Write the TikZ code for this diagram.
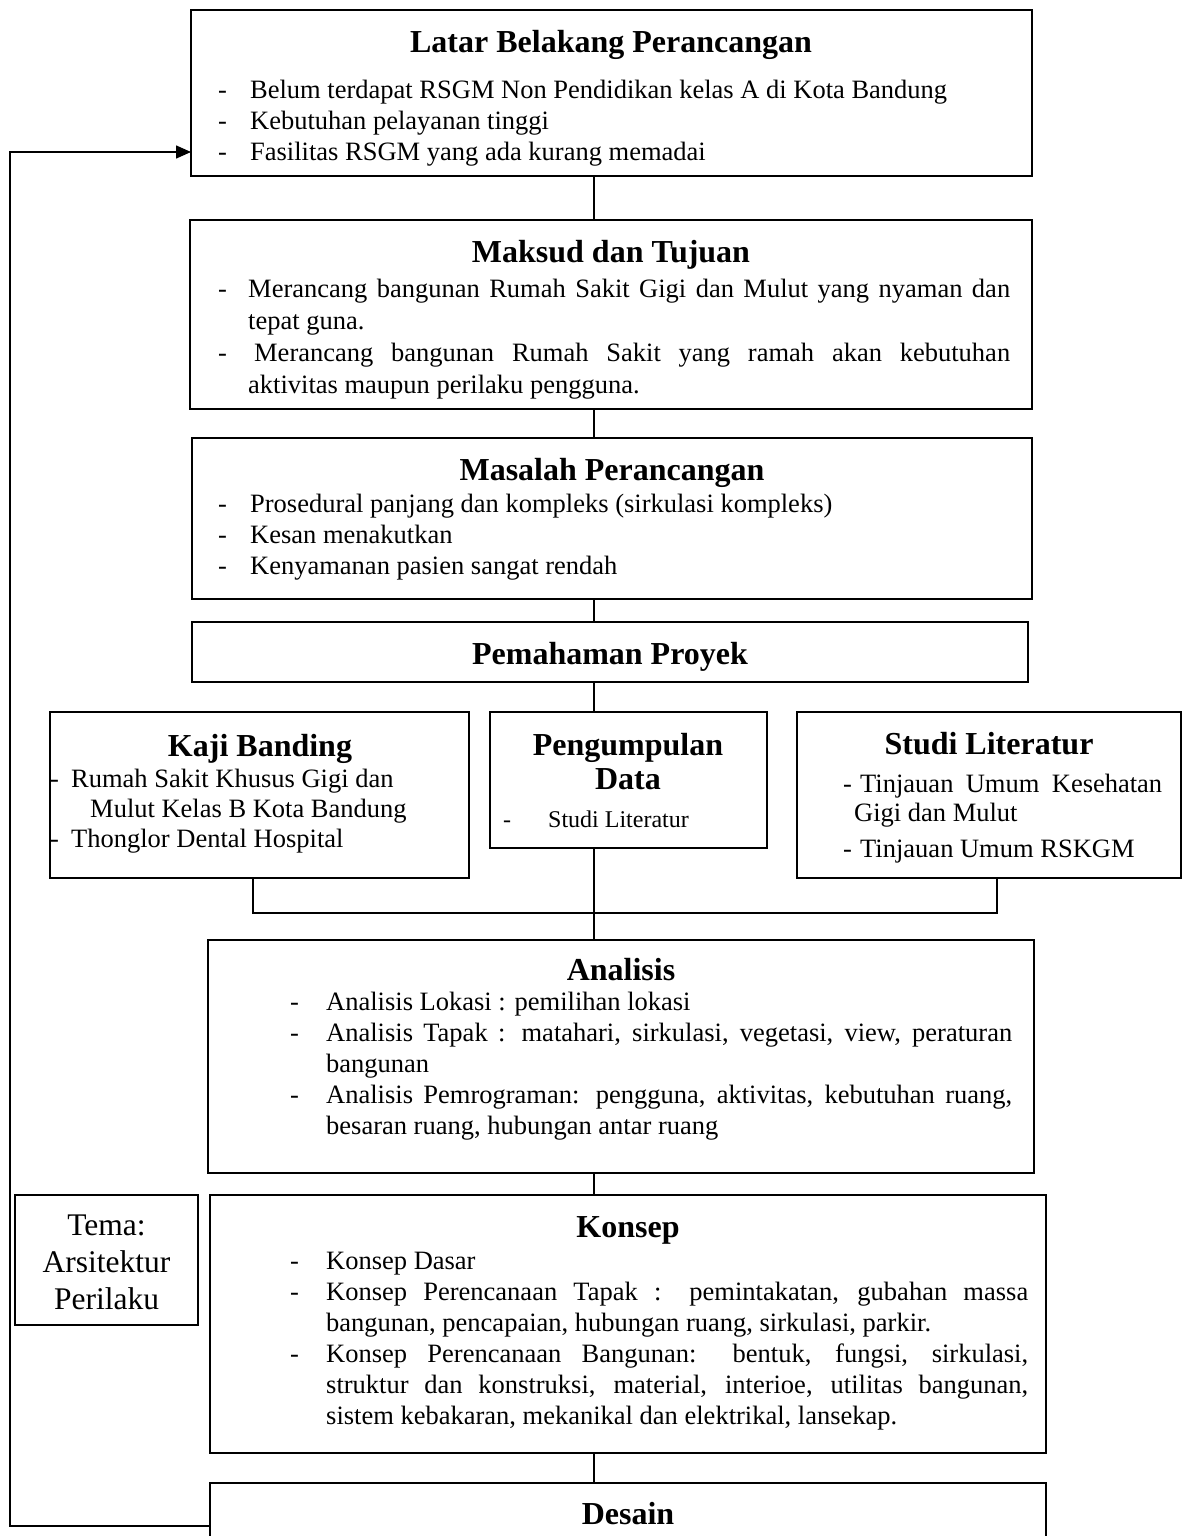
\documentclass[tikz,border=0pt]{standalone}
\usepackage{fontspec}
\setmainfont{Liberation Serif}
\usetikzlibrary{arrows.meta}
\newcommand\bul[2]{\par\hangindent=#1\hangafter=1\noindent\makebox[#1][l]{-}#2}
\newcommand\bodyfs[1]{\fontsize{26.5}{#1}\selectfont}
\begin{document}
\begin{tikzpicture}[x=1pt,y=-1pt,
  box/.style={draw, line width=1.6pt, rectangle, anchor=north west, inner sep=0pt, outer sep=0pt},
  conn/.style={line width=1.3pt},
  ttl/.style={font=\fontsize{32}{36}\selectfont\bfseries, anchor=base, inner sep=0pt},
  txt/.style={anchor=base west, inner sep=0pt}]
\useasboundingbox (0,0) rectangle (1184,1536);

% boxes
\node[box, minimum width=841pt, minimum height=166pt] (latar) at (191,10) {};
\node[box, minimum width=842pt, minimum height=189pt] (maksud) at (190,220) {};
\node[box, minimum width=840pt, minimum height=161pt] (masalah) at (192,438) {};
\node[box, minimum width=836pt, minimum height=60pt] (pemahaman) at (192,622) {};
\node[box, minimum width=419pt, minimum height=166pt] (kaji) at (50,712) {};
\node[box, minimum width=277pt, minimum height=136pt] (peng) at (490,712) {};
\node[box, minimum width=384pt, minimum height=166pt] (studi) at (797,712) {};
\node[box, minimum width=826pt, minimum height=233pt] (analisis) at (208,940) {};
\node[box, minimum width=183pt, minimum height=130pt] (tema) at (15,1195) {};
\node[box, minimum width=836pt, minimum height=258pt] (konsep) at (210,1195) {};
\node[box, minimum width=836pt, minimum height=86pt] (desain) at (210,1483) {};

% titles
\node[ttl] (tlatar) at (611,53) {Latar Belakang Perancangan};
\node[ttl] (tmaksud) at (611,262) {Maksud dan Tujuan};
\node[ttl] (tmasalah) at (612,480) {Masalah Perancangan};
\node[ttl] (tpemahaman) at (610,664) {Pemahaman Proyek};
\node[ttl] (tkaji) at (260,756) {Kaji Banding};
\node[ttl] (tpeng1) at (628,755) {Pengumpulan};
\node[ttl] (tpeng2) at (628,789) {Data};
\node[ttl] (tstudi) at (989,754) {Studi Literatur};
\node[ttl] (tanalisis) at (621,980) {Analisis};
\node[ttl] (tkonsep) at (628,1237) {Konsep};
\node[ttl] (tdesain) at (628,1524) {Desain};

% bodies
\node[txt] (blatar) at (218,99) {\parbox[t]{800pt}{\bodyfs{31}%
  \bul{32pt}{Belum terdapat RSGM Non Pendidikan kelas A di Kota Bandung}%
  \bul{32pt}{Kebutuhan pelayanan tinggi}%
  \bul{32pt}{Fasilitas RSGM yang ada kurang memadai}}};

\node[txt] (bmaksud) at (218,297) {\parbox[t]{792pt}{\bodyfs{32}\emergencystretch=3em%
  \bul{30pt}{Merancang bangunan Rumah Sakit Gigi dan Mulut yang nyaman dan\linebreak tepat guna.}%
  \bul{30pt}{\hspace*{6pt}Merancang bangunan Rumah Sakit yang ramah akan kebutuhan\linebreak aktivitas maupun perilaku pengguna.}}};

\node[txt] (bmasalah) at (218,512) {\parbox[t]{800pt}{\bodyfs{31}%
  \bul{32pt}{Prosedural panjang dan kompleks (sirkulasi kompleks)}%
  \bul{32pt}{Kesan menakutkan}%
  \bul{32pt}{Kenyamanan pasien sangat rendah}}};

\node[txt] (bkaji) at (50,787) {\parbox[t]{415pt}{\bodyfs{30}\raggedright
  \makebox[21pt][l]{-}Rumah Sakit Khusus Gigi dan\\
  \hspace*{40pt}Mulut Kelas B Kota Bandung\\
  \makebox[21pt][l]{-}Thonglor Dental Hospital}};

\node[txt] (bpeng) at (503,827) {\fontsize{24}{28}\selectfont\makebox[45pt][l]{-}Studi Literatur};

\node[txt] (bstudi) at (843,792) {\parbox[t]{340pt}{\bodyfs{29}\raggedright
  \makebox[17pt][l]{-}\makebox[302pt][s]{Tinjauan Umum Kesehatan}\\
  \hspace*{11pt}Gigi dan Mulut\\[7pt]
  \makebox[17pt][l]{-}Tinjauan Umum RSKGM}};

\node[txt] (banalisis) at (290,1010) {\parbox[t]{722pt}{\bodyfs{31}\emergencystretch=3em%
  \bul{36pt}{Analisis Lokasi : pemilihan lokasi}%
  \bul{36pt}{Analisis Tapak : matahari, sirkulasi, vegetasi, view, peraturan\linebreak bangunan}%
  \bul{36pt}{Analisis Pemrograman: pengguna, aktivitas, kebutuhan ruang,\linebreak besaran ruang, hubungan antar ruang}}};

\node[txt] (bkonsep) at (290,1269) {\parbox[t]{738pt}{\bodyfs{31}\emergencystretch=3em%
  \bul{36pt}{Konsep Dasar}%
  \bul{36pt}{Konsep Perencanaan Tapak : pemintakatan, gubahan massa\linebreak bangunan, pencapaian, hubungan ruang, sirkulasi, parkir.}%
  \bul{36pt}{Konsep Perencanaan Bangunan: bentuk, fungsi, sirkulasi,\linebreak struktur dan konstruksi, material, interioe, utilitas bangunan,\linebreak sistem kebakaran, mekanikal dan elektrikal, lansekap.}}};

\node[anchor=base, inner sep=0pt] (ttema) at (106.5,1235.5) {\parbox[t]{180pt}{\centering\fontsize{31.5}{37}\selectfont Tema:\\Arsitektur\\Perilaku}};

% connectors
\coordinate (spine) at (594,0);
\coordinate (jl) at (253,913);
\coordinate (jr) at (997,913);
\coordinate (lb) at (10,1526);
\coordinate (lt) at (10,152);
\draw[conn] (latar.south -| spine) -- (maksud.north -| spine);
\draw[conn] (maksud.south -| spine) -- (masalah.north -| spine);
\draw[conn] (masalah.south -| spine) -- (pemahaman.north -| spine);
\draw[conn] (pemahaman.south -| spine) -- (peng.north -| spine);
\draw[conn] (kaji.south -| jl) -- (jl) -- (jr) -- (studi.south -| jr);
\draw[conn] (peng.south -| spine) -- (analisis.north -| spine);
\draw[conn] (analisis.south -| spine) -- (konsep.north -| spine);
\draw[conn] (konsep.south -| spine) -- (desain.north -| spine);
\draw[line width=1.5pt, -{Triangle[length=15pt,width=13pt]}] (desain.west) -- (lb) -- (lt) -- (latar.west |- lt);
\end{tikzpicture}
\end{document}
